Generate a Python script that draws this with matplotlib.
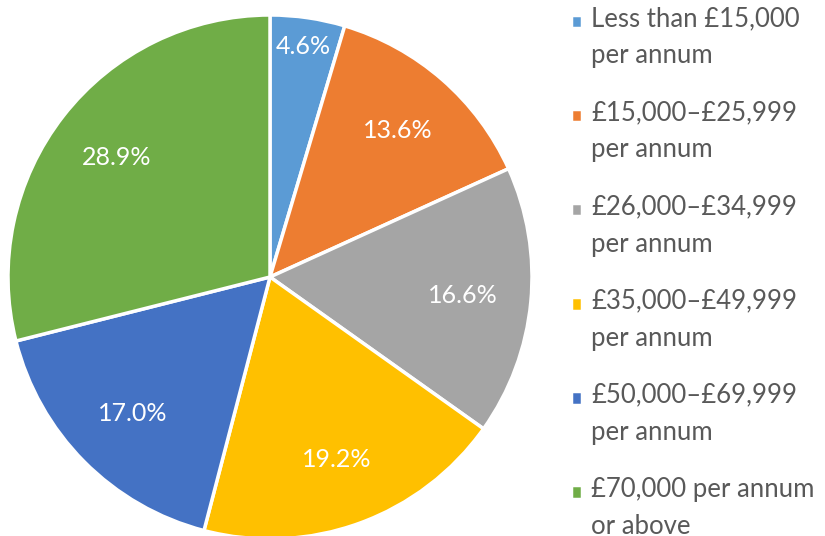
import matplotlib.pyplot as plt

# Salary bands and share of respondents (%)
labels = ['Less than £15,000\nper annum',
          '£15,000–£25,999\nper annum',
          '£26,000–£34,999\nper annum',
          '£35,000–£49,999\nper annum',
          '£50,000–£69,999\nper annum',
          '£70,000 per annum\nor above']
shares = [4.6, 13.6, 16.6, 19.2, 17.0, 28.9]
colors = ['#5B9BD5', '#ED7D31', '#A5A5A5', '#FFC000', '#4472C4', '#70AD47']

plt.rcParams['font.family'] = ['Lato', 'DejaVu Sans']

fig = plt.figure(figsize=(8.25, 5.36), dpi=100)
W, H = 825, 536
cx, cy, r = 270, 536 - 277, 262
ax = fig.add_axes([(cx - r) / W, (cy - r) / H, 2 * r / W, 2 * r / H])

wedges, texts, autotexts = ax.pie(
    shares, colors=colors, startangle=90, counterclock=False,
    autopct='%.1f%%', pctdistance=0.74,
    wedgeprops=dict(edgecolor='white', linewidth=2.5),
    textprops=dict(color='white', fontsize=18))
ax.set_xlim(-1, 1)
ax.set_ylim(-1, 1)

# small first slice: label sits further out
x, y = autotexts[0].get_position()
autotexts[0].set_position((x * 0.89 / 0.74, y * 0.89 / 0.74))

leg = fig.legend(wedges, labels, loc='upper left', bbox_to_anchor=(561 / W, 1 + 4 / H),
                 frameon=False, fontsize=18.5, handlelength=0.43, handleheight=0.43,
                 handletextpad=0.35, labelspacing=1.25, borderaxespad=0)
for t in leg.get_texts():
    t.set_color('#595959')
    t.set_linespacing(1.6)
# square markers sit next to the first line of each label
for p in leg.get_patches():
    p.set_y(p.get_y() + 12)

fig.savefig('out.png', dpi=100)
